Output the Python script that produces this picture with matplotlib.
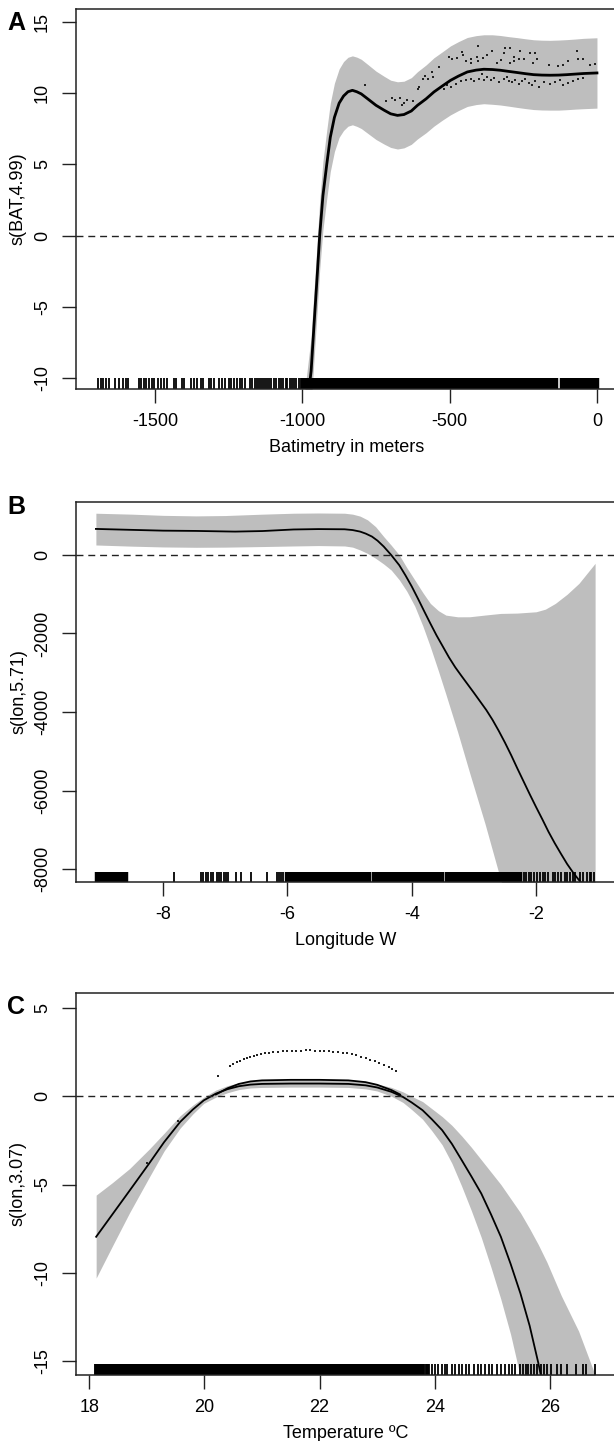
import numpy as np
import matplotlib
matplotlib.use("Agg")
import matplotlib.pyplot as plt

plt.rcParams['font.family'] = ['Liberation Sans', 'DejaVu Sans']
plt.rcParams['axes.unicode_minus'] = False

GREY = '#bebebe'

# ---------------- Panel A data ----------------
a_x = [-1000, -990, -978, -970, -960, -950, -941, -930, -917, -905, -891, -875, -860, -845, -830,
       -815, -800, -778, -750, -722, -700, -677, -655, -630, -609, -580, -553, -525, -497, -470,
       -440, -410, -384, -355, -328, -300, -271, -243, -215, -187, -159, -130, -102, -74, -46, -23, 0]
a_fit = [-14.8, -13.0, -10.9, -9.5, -6.2, -3.0, 0.0, 2.8, 5.0, 6.9, 8.3, 9.3, 9.8, 10.1, 10.2,
         10.1, 9.95, 9.6, 9.15, 8.8, 8.55, 8.44, 8.5, 8.75, 9.15, 9.6, 10.09, 10.5, 10.9, 11.2,
         11.49, 11.62, 11.68, 11.66, 11.61, 11.53, 11.45, 11.37, 11.3, 11.27, 11.26, 11.27, 11.3, 11.34, 11.38, 11.4, 11.42]
a_halfwidth = [2.4, 2.4, 2.4, 2.4, 2.4, 2.4, 2.4, 2.4, 2.4, 2.4, 2.4, 2.4, 2.42, 2.42, 2.42,
               2.43, 2.43, 2.42, 2.4, 2.38, 2.36, 2.36, 2.34, 2.34, 2.36, 2.38, 2.4, 2.4, 2.42, 2.42,
               2.42, 2.42, 2.42, 2.44, 2.44, 2.44, 2.45, 2.45, 2.45, 2.45, 2.45, 2.46, 2.46, 2.46, 2.47, 2.47, 2.47]
a_pts_x = [-787, -716, -694, -685, -668, -660, -654, -643, -626, -609, -604, -592, -584, -573, -559, -555, -536,
           -502, -491, -476, -457, -454, -446, -429, -427, -406, -404, -403, -386, -373, -356, -339, -325, -314,
           -311, -296, -294, -283, -280, -266, -260, -247, -226, -217, -209, -204, -164, -131, -114, -97, -69,
           -63, -46, -24, -7,
           -519, -508, -497, -480, -463, -446, -429, -416, -401, -390, -382, -373, -361, -350, -333, -316, -305,
           -300, -288, -277, -266, -254, -243, -232, -221, -209, -198, -181, -159, -142, -125, -114, -97, -80, -63, -46]
a_pts_y = [10.55, 9.43, 9.66, 9.50, 9.66, 9.15, 9.31, 9.50, 9.43, 10.32, 10.44, 11.02, 11.21, 10.98, 11.49, 11.14, 11.85,
           12.55, 12.39, 12.48, 12.90, 12.71, 12.24, 12.39, 12.15, 12.55, 12.24, 13.32, 12.48, 12.67, 12.95, 12.15, 12.31, 12.85,
           13.14, 13.14, 12.15, 12.55, 12.24, 12.39, 12.95, 12.39, 12.85, 12.15, 12.85, 12.43, 12.01, 11.92, 11.96, 12.24, 12.95,
           12.43, 12.39, 12.01, 12.08,
           10.32, 10.55, 10.44, 10.67, 10.84, 10.91, 10.98, 10.84, 11.02, 11.38, 10.91, 11.14, 10.91, 11.07, 10.79, 11.02, 11.14,
           10.84, 10.79, 10.91, 10.67, 10.84, 11.02, 10.74, 10.55, 10.84, 10.44, 10.79, 10.67, 10.79, 10.91, 10.55, 10.74, 10.84, 11.02, 11.07]
a_rug_sparse = [-1693, -1684, -1675, -1665, -1656, -1636, -1622, -1609, -1600, -1591, -1555, -1546, -1538, -1530, -1521,
                -1510, -1502, -1490, -1478, -1470, -1459, -1436, -1427, -1408, -1400, -1377, -1367, -1358, -1344, -1337,
                -1318, -1309, -1298, -1284, -1273, -1264, -1250, -1241, -1233, -1222, -1213, -1205, -1194, -1178, -1170,
                -1161, -1154, -1147, -1141, -1133, -1127, -1119, -1112, -1105, -1096, -1088, -1080, -1073, -1065, -1057,
                -1051, -1043, -1035, -1028, -1020, -1012, -1006]
a_rug_dense = [-998, -987, -976, -965, -954, -943, -932, -921, -910, -899, -888, -877, -866, -855, -844, -833, -822,
               -811, -800, -789, -778, -767, -756, -745, -734, -723, -712, -701, -690, -679, -668, -657, -646, -635,
               -624, -613, -602, -591, -580, -569, -558, -547, -536, -525, -514, -503, -492, -481, -470, -459, -448,
               -437, -426, -415, -404, -393, -382, -371, -360, -349, -338, -327, -316, -305, -294, -283, -272, -261,
               -250, -239, -228, -217, -206, -195, -184, -173, -162, -151, -140, -120, -110, -100, -90, -80, -69, -58,
               -47, -36, -25, -14, -4, 0]

# ---------------- Panel B data ----------------
b_x = [-9.08, -8.5, -8.0, -7.47, -7.0, -6.84, -6.4, -5.9, -5.5, -5.08, -4.95, -4.83, -4.74, -4.64, -4.55,
       -4.45, -4.33, -4.2, -4.1, -4.0, -3.9, -3.8, -3.7, -3.6, -3.5, -3.4, -3.3, -3.2, -3.1, -3.0, -2.9,
       -2.8, -2.7, -2.6, -2.5, -2.4, -2.3, -2.2, -2.1, -2.0, -1.9, -1.8, -1.7, -1.6, -1.5, -1.4, -1.3, -1.2]
b_fit = [664, 640, 620, 613, 600, 596, 610, 650, 660, 655, 635, 596, 545, 470, 365,
         215, 0, -260, -520, -800, -1110, -1430, -1745, -2050, -2330, -2610, -2860, -3080, -3295, -3510, -3730,
         -3950, -4200, -4480, -4780, -5100, -5440, -5770, -6100, -6420, -6730, -7050, -7340, -7610, -7872, -8100, -8300, -8480]
b_up_x = [-9.08, -8.5, -8.0, -7.47, -7.0, -6.4, -5.9, -5.5, -5.08, -4.95, -4.83, -4.71, -4.58, -4.45, -4.33,
          -4.2, -4.08, -3.95, -3.82, -3.70, -3.57, -3.45, -3.26, -3.07, -2.82, -2.57, -2.3, -2.0, -1.85, -1.69,
          -1.5, -1.31, -1.05]
b_up = [1064, 1040, 1010, 996, 1005, 1040, 1064, 1070, 1064, 1040, 990, 894, 720, 468, 250,
        0, -320, -638, -960, -1234, -1420, -1532, -1575, -1574, -1530, -1489, -1480, -1447, -1380, -1234,
        -1000, -723, -213]
b_lo_x = [-9.08, -8.5, -8.0, -7.47, -7.0, -6.4, -5.9, -5.5, -5.08, -4.95, -4.83, -4.71, -4.58, -4.45, -4.33,
          -4.25, -4.17, -4.08, -4.0, -3.92, -3.85, -3.77, -3.70, -3.54, -3.38, -3.22, -3.07, -2.91, -2.76, -2.6,
          -2.4, -1.05]
b_lo = [255, 225, 205, 196, 200, 215, 230, 240, 230, 200, 128, 40, -85, -230, -383,
        -520, -700, -920, -1149, -1400, -1700, -2000, -2340, -3100, -3900, -4720, -5540, -6360, -7180, -8000,
        -9800, -9800]
b_rug_sparse = [-7.83, -7.39, -7.35, -7.31, -7.27, -7.23, -7.19, -7.14, -7.10, -7.06, -7.02, -6.98, -6.96,
                -6.83, -6.74, -6.58, -6.33, -6.17, -6.13, -6.10, -6.07,
                -2.20, -2.16, -2.12, -2.08, -2.04, -1.99, -1.94, -1.89, -1.85, -1.81, -1.73,
                -1.69, -1.65, -1.60, -1.54, -1.50, -1.45, -1.41, -1.37, -1.29, -1.25, -1.18, -1.14, -1.11, -1.06]
b_rug_dense = [-9.07, -9.03, -8.99, -8.95, -8.91, -8.87, -8.83, -8.79, -8.75, -8.71, -8.67, -8.63, -8.60,
               -6.00, -5.95, -5.90, -5.85, -5.80, -5.75, -5.70, -5.65, -5.60, -5.55, -5.50, -5.45, -5.40, -5.35,
               -5.30, -5.25, -5.20, -5.15, -5.10, -5.05, -5.00, -4.95, -4.90, -4.85, -4.80, -4.74, -4.68, -4.61,
               -4.55, -4.48, -4.42, -4.35, -4.28, -4.22, -4.17, -4.12, -4.07, -4.02, -3.97, -3.92, -3.87, -3.82,
               -3.77, -3.72, -3.67, -3.62, -3.57, -3.52, -3.44, -3.39, -3.34, -3.29, -3.24, -3.19, -3.14, -3.09,
               -3.04, -2.99, -2.94, -2.89, -2.84, -2.79, -2.74, -2.69, -2.64, -2.59, -2.54, -2.49, -2.44, -2.39,
               -2.34, -2.30, -2.265]

# ---------------- Panel C data ----------------
c_x = [18.12, 18.4, 18.7, 19.04, 19.3, 19.58, 19.8, 19.99, 20.2, 20.4, 20.6, 20.8, 21.0, 21.5, 22.0,
       22.5, 22.8, 23.0, 23.25, 23.45, 23.6, 23.79, 23.95, 24.13, 24.3, 24.47, 24.64, 24.81, 24.98,
       25.15, 25.32, 25.49, 25.65, 25.8, 25.95]
c_fit = [-7.96, -6.7, -5.35, -3.81, -2.6, -1.45, -0.75, -0.23, 0.15, 0.4, 0.57, 0.66, 0.7, 0.72, 0.72,
         0.7, 0.62, 0.5, 0.25, -0.04, -0.35, -0.79, -1.3, -1.92, -2.7, -3.62, -4.55, -5.51, -6.7,
         -7.96, -9.5, -11.17, -13.0, -15.1, -17.5]
c_up = [-5.6, -4.9, -4.1, -3.0, -2.1, -1.1, -0.5, -0.05, 0.35, 0.6, 0.76, 0.85, 0.9, 0.92, 0.92,
        0.9, 0.82, 0.7, 0.5, 0.25, 0.0, -0.3, -0.7, -1.15, -1.65, -2.25, -2.9, -3.6, -4.3,
        -5.0, -5.8, -6.6, -7.5, -8.4, -9.4]
c_lo = [-10.3, -8.5, -6.6, -4.6, -3.1, -1.8, -1.0, -0.4, -0.05, 0.2, 0.38, 0.47, 0.5, 0.52, 0.52,
        0.5, 0.42, 0.3, 0.0, -0.35, -0.75, -1.3, -1.95, -2.75, -3.8, -5.1, -6.5, -8.0, -9.7,
        -11.5, -13.5, -15.9, -18.5, -21.0, -24.0]
c_up_tail_x = [26.2, 26.5, 26.8]
c_up_tail = [-11.3, -13.3, -15.9]
c_line2_x = [20.2, 20.4, 20.6, 20.8, 21.0, 21.5, 22.0, 22.5, 22.8, 23.0, 23.25, 23.4]
c_line2 = [0.1, 0.45, 0.7, 0.84, 0.9, 0.93, 0.93, 0.9, 0.8, 0.65, 0.35, 0.1]
c_pts_x = [19.0, 19.55, 20.23, 20.44, 20.5, 20.56, 20.62, 20.68, 20.74, 20.8, 20.86, 20.92, 20.98, 21.05,
           21.12, 21.2, 21.28, 21.36, 21.44, 21.52, 21.6, 21.68, 21.76, 21.84, 21.92, 22.0, 22.08, 22.16,
           22.24, 22.32, 22.4, 22.48, 22.56, 22.64, 22.72, 22.8, 22.88, 22.96, 23.04, 23.12, 23.2, 23.26, 23.32]
c_pts_y = [-3.8, -1.42, 1.13, 1.7, 1.82, 1.93, 2.02, 2.1, 2.18, 2.25, 2.3, 2.35, 2.4, 2.44,
           2.47, 2.5, 2.53, 2.55, 2.56, 2.57, 2.58, 2.59, 2.6, 2.6, 2.59, 2.58, 2.57, 2.55,
           2.53, 2.5, 2.47, 2.43, 2.38, 2.32, 2.25, 2.17, 2.08, 1.98, 1.88, 1.76, 1.64, 1.52, 1.42]
c_rug_dense = [18.12, 18.16, 18.2, 18.24, 18.28, 18.32, 18.36, 18.42, 18.46, 18.5, 18.55, 18.6, 18.64, 18.68,
               18.73, 18.78, 18.82, 18.86, 18.9, 18.95, 19.0, 19.05, 19.09, 19.13, 19.18, 19.22, 19.26, 19.3,
               19.35, 19.4, 19.44, 19.48, 19.53, 19.58, 19.62, 19.66, 19.71, 19.76, 19.8, 19.84, 19.89, 19.94,
               19.98, 20.02, 20.07, 20.12, 20.16, 20.2, 20.25, 20.3, 20.34, 20.38, 20.43, 20.48, 20.52, 20.56,
               20.61, 20.66, 20.7, 20.74, 20.79, 20.84, 20.88, 20.92, 20.97, 21.02, 21.06, 21.1, 21.15, 21.2,
               21.24, 21.28, 21.33, 21.38, 21.42, 21.46, 21.51, 21.56, 21.6, 21.64, 21.69, 21.74, 21.78, 21.82,
               21.87, 21.92, 21.96, 22.0, 22.05, 22.1, 22.14, 22.18, 22.23, 22.28, 22.32, 22.36, 22.41, 22.46,
               22.5, 22.54, 22.59, 22.64, 22.68, 22.72, 22.77, 22.82, 22.86, 22.9, 22.95, 23.0, 23.04, 23.08,
               23.13, 23.18, 23.22, 23.26, 23.31, 23.36, 23.4, 23.44, 23.49, 23.54, 23.58, 23.62, 23.67, 23.72,
               23.76, 23.8, 23.86]
c_rug_sparse = [23.9, 23.95, 24.0, 24.05, 24.12, 24.18, 24.22, 24.3, 24.35, 24.42, 24.48,
                24.55, 24.6, 24.68, 24.75, 24.8, 24.88, 24.95, 25.0, 25.08, 25.15, 25.22, 25.3, 25.35, 25.4,
                25.48, 25.53, 25.58, 25.63, 25.68, 25.73, 25.78, 25.84, 25.9, 25.96, 26.02, 26.12, 26.2, 26.3,
                26.46, 26.57, 26.63, 26.78]

# ---------------- layout ----------------
W, H = 614, 1441
fig = plt.figure(figsize=(W / 100, H / 100), dpi=100)

def px_axes(left, top, right, bottom):
    return fig.add_axes([left / W, 1 - bottom / H, (right - left) / W, (bottom - top) / H])

FS = 13

def style(ax, xlim, ylim, xticks, yticks, xlabel, ylabel, h_px):
    ax.set_xlim(*xlim)
    ax.set_ylim(*ylim)
    ax.set_xticks(xticks)
    ax.set_yticks(yticks)
    ax.tick_params(direction='out', length=10, width=1.0, labelsize=FS, pad=7, color='#222222')
    ax.tick_params(axis='y', pad=8)
    for lab in ax.get_yticklabels():
        lab.set_rotation(90)
        lab.set_va('center')
    for s in ax.spines.values():
        s.set_linewidth(1.1)
        s.set_color('#222222')
    ax.set_xlabel(xlabel, fontsize=FS)
    ax.set_ylabel(ylabel, fontsize=FS)
    ax.xaxis.set_label_coords(0.5, -50 / h_px)
    ax.yaxis.set_label_coords(-49 / 540, 0.5)
    ax.axhline(0, color='#222222', lw=1.0, ls=(0, (5, 3.5)))

def rug(ax, vals, h, lw):
    ax.vlines(vals, 0, h, transform=ax.get_xaxis_transform(), color='black', lw=lw)

# Panel A
axA = px_axes(76, 9, 617, 389)
a_up = [f + w for f, w in zip(a_fit, a_halfwidth)]
a_lo = [f - w for f, w in zip(a_fit, a_halfwidth)]
axA.fill_between(a_x, a_lo, a_up, color=GREY, lw=0)
axA.scatter(a_pts_x, a_pts_y, s=3, marker='s', color='#222222', lw=0)
axA.plot(a_x, a_fit, color='black', lw=2.0)
rug(axA, a_rug_sparse, 0.029, 1.3)
rug(axA, a_rug_dense, 0.029, 3.2)
style(axA, (-1768, 68), (-10.77, 15.91), [-1500, -1000, -500, 0], [-10, -5, 0, 5, 10, 15],
      'Batimetry in meters', 's(BAT,4.99)', 380)

# Panel B
axB = px_axes(76, 502, 615, 882)
axB.fill_between(b_up_x, np.interp(b_up_x, b_lo_x, b_lo), b_up, color=GREY, lw=0)
axB.plot(b_x, b_fit, color='black', lw=1.3)
rug(axB, b_rug_sparse, 0.027, 1.3)
rug(axB, b_rug_dense, 0.027, 3.2)
style(axB, (-9.40, -0.73), (-8331, 1350), [-8, -6, -4, -2], [-8000, -6000, -4000, -2000, 0],
      'Longitude W', 's(lon,5.71)', 380)

# Panel C
axC = px_axes(76, 993, 616, 1375)
cx_all = c_x + c_up_tail_x
cu_all = c_up + c_up_tail
axC.fill_between(cx_all, np.interp(cx_all, c_x, c_lo, right=-30), cu_all, color=GREY, lw=0)
axC.plot(c_line2_x, c_line2, color='black', lw=1.3)
axC.plot(c_x, c_fit, color='black', lw=1.3)
axC.scatter(c_pts_x, c_pts_y, s=3, marker='s', color='#222222', lw=0)
rug(axC, c_rug_dense, 0.03, 2.8)
rug(axC, c_rug_sparse, 0.03, 1.3)
style(axC, (17.77, 27.15), (-15.79, 5.85), [18, 20, 22, 24, 26], [-15, -10, -5, 0, 5],
      'Temperature ºC', 's(lon,3.07)', 382)

for letter, y in (('A', 23), ('B', 507), ('C', 1007)):
    fig.text(16 / W, 1 - y / H, letter, fontsize=18, fontweight='bold', ha='center', va='center')

fig.savefig('out.png', dpi=100)
